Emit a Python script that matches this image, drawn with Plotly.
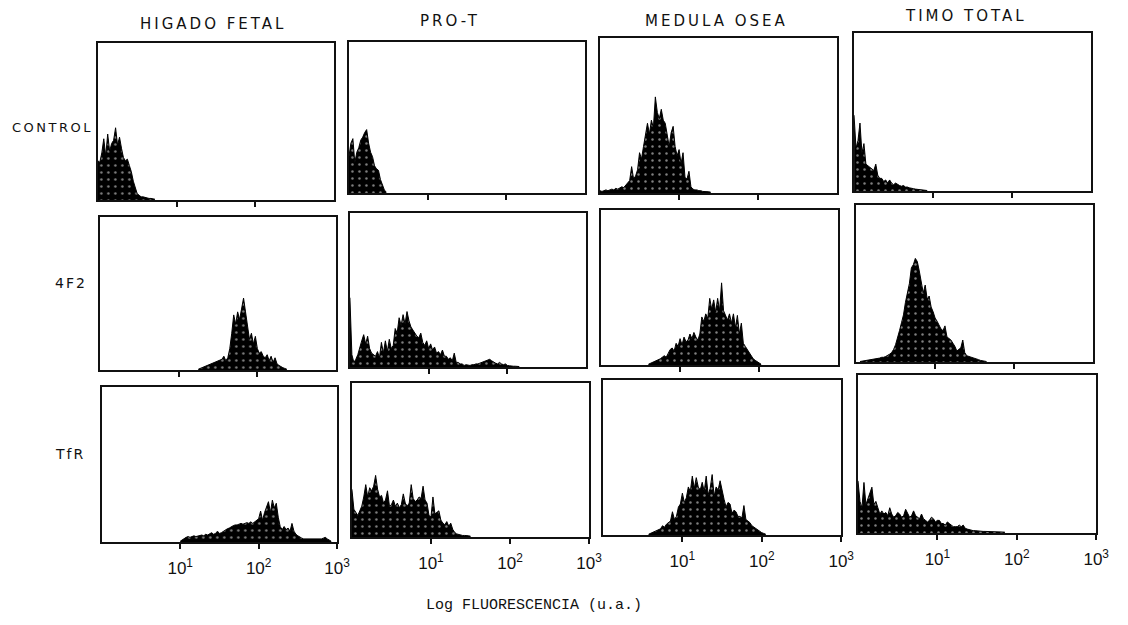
import numpy as np
import plotly.graph_objects as go

W, H = 1128, 625
CHANNEL = 0.025  # width of one histogram channel, in decades of fluorescence

column_titles = ["HIGADO FETAL", "PRO-T", "MEDULA OSEA", "TIMO TOTAL"]
row_titles = ["CONTROL", "4F2", "TfR"]
tick_values = [10, 100, 1000]
tick_text = ["10<sup>1</sup>", "10<sup>2</sup>", "10<sup>3</sup>"]

# Histogram counts (% of full scale), one value per channel, starting at the given channel
higado_control_first = 0
higado_control = [25, 24, 30, 39, 28, 42, 31, 36, 38, 46, 35, 40, 33, 27, 25, 26, 22, 18, 12, 8,
                  4, 3, 2, 2, 1.5, 1, 1, 1, 0.5, 0.5]
higado_4f2_first = 50
higado_4f2 = [0.5, 1, 1.5, 2, 2.5, 3, 3.5, 4, 4.5, 5, 5.5, 6, 7, 9, 6, 8, 14, 24, 36, 30,
              38, 33, 40, 47, 38, 28, 20, 24, 17, 22, 14, 11, 12, 9, 8, 10, 6, 9, 5, 8,
              4, 3, 2, 1.5, 1, 0.5]
higado_tfr_first = 40
higado_tfr = [0.5, 1.5, 2.5, 3, 3.5, 3, 3.5, 4, 3.5, 4, 4, 4.5, 4, 5, 4.5, 5, 6, 5, 5.5, 7,
              5.5, 6, 7, 8, 8.5, 9, 10, 10.5, 11, 11, 11.5, 12, 11.5, 12, 12.5, 12, 13, 12, 13, 14,
              15, 20, 14, 19, 22, 26, 19, 27, 22, 25, 16, 10, 8, 10, 8, 9, 7, 12, 7, 5,
              4, 3, 2.5, 2, 2, 2, 2, 2, 2, 2, 2, 2, 2, 2.5, 3, 2, 1, 0.5]

prot_control_first = 0
prot_control = [24, 33, 36, 20, 27, 30, 35, 37, 40, 42, 33, 27, 24, 18, 16, 15, 9, 6, 2, 0.5]
prot_4f2_first = 0
prot_4f2 = [45, 8, 3, 5, 8, 13, 17, 21, 15, 20, 12, 9, 8, 7, 10, 6, 16, 9, 17, 10,
            18, 12, 14, 25, 22, 32, 27, 34, 28, 36, 30, 26, 24, 22, 20, 19, 22, 16, 14, 17,
            12, 15, 11, 13, 9, 10, 8, 11, 7, 7, 5, 6, 4, 9, 3, 3, 2, 2, 1, 1.5,
            1, 1, 1.5, 1.5, 2, 2, 2.5, 3, 3, 3.5, 4, 5, 4, 3, 2.5, 2, 3, 2, 1.5, 2,
            1, 0.8, 0.5, 0.5, 0.5, 0.3, 0.3]
prot_tfr_first = 0
prot_tfr = [31, 18, 16, 14, 17, 20, 26, 34, 26, 32, 30, 33, 40, 31, 26, 27, 22, 24, 30, 20,
            21, 24, 20, 22, 19, 21, 28, 22, 20, 22, 34, 25, 23, 24, 26, 25, 33, 24, 22, 14,
            13, 26, 15, 16, 17, 11, 9, 8, 10, 7, 9, 5, 3, 2, 1.5, 1, 1, 1, 1, 0.8, 0.5]

medula_control_first = 0
medula_control = [1.5, 1, 1.5, 2, 1.5, 2, 2.5, 2, 3, 2.5, 3, 4, 3.5, 5, 6, 8, 17, 9, 11, 15,
                  26, 22, 30, 39, 45, 38, 47, 42, 62, 52, 48, 54, 47, 45, 37, 30, 39, 43, 30, 24,
                  28, 19, 26, 10, 9, 14, 4, 2.5, 2, 2, 1.5, 1.5, 1, 1, 1, 0.8, 0.5]
medula_4f2_first = 24
medula_4f2 = [0.5, 1, 1.5, 2, 2.5, 3, 4, 5, 6, 5, 8, 10, 11, 9, 14, 12, 17, 13, 18, 15,
              16, 20, 17, 21, 18, 16, 20, 31, 28, 33, 30, 43, 36, 42, 34, 43, 35, 53, 35, 32,
              29, 33, 27, 33, 24, 32, 20, 27, 14, 12, 10, 8, 6, 4, 3, 2, 1, 0.5]
medula_tfr_first = 23
medula_tfr = [0.5, 1, 1.5, 2, 2.5, 3, 4, 6, 5, 7, 8, 9, 15, 10, 12, 18, 20, 27, 21, 24,
              31, 28, 38, 30, 37, 31, 29, 34, 28, 38, 26, 30, 39, 25, 31, 29, 35, 28, 23, 18,
              21, 20, 14, 16, 15, 12, 12, 11, 19, 10, 9, 8, 6, 5, 4, 3, 2, 1.5, 1, 0.5]

timo_control_first = 0
timo_control = [48, 27, 32, 43, 24, 30, 17, 16, 15, 14, 13, 17, 10, 8, 8, 6, 7, 5, 7, 5,
                4, 5, 4, 3.5, 3, 3.5, 2.5, 2.5, 2, 1.5, 1.5, 1.2, 1, 1, 0.8, 0.6, 0.5, 0.3]
timo_4f2_first = 2
timo_4f2 = [0.3, 0.5, 0.8, 1, 1, 1.2, 1.5, 1.5, 2, 2, 2.5, 3, 3, 3.5, 4, 5, 6, 8, 11, 15,
            20, 25, 30, 38, 44, 50, 60, 62, 66, 64, 58, 50, 44, 49, 40, 42, 35, 32, 28, 26,
            23, 21, 20, 23, 16, 15, 14, 12, 10, 7, 8, 9, 14, 6, 4, 3.5, 3, 3, 2.5, 2,
            1.5, 1, 0.8, 0.5, 0.3]
timo_tfr_first = 0
timo_tfr = [33, 20, 16, 32, 18, 22, 25, 29, 18, 20, 16, 12, 14, 12, 13, 11, 16, 12, 10, 11,
            13, 12, 10, 11, 15, 12, 10, 11, 14, 11, 10, 9, 12, 9, 8, 7, 8, 10, 9, 7,
            8, 8, 6, 6, 5, 7, 6, 5, 4, 4, 4, 5, 4, 5, 3, 2.5, 2, 2, 1.5, 1.5,
            1.3, 1, 1, 1, 1, 1, 1, 1, 0.8, 0.8, 0.8, 0.7, 0.6, 0.6, 0.5]

grid = [
    [(higado_control_first, higado_control), (prot_control_first, prot_control),
     (medula_control_first, medula_control), (timo_control_first, timo_control)],
    [(higado_4f2_first, higado_4f2), (prot_4f2_first, prot_4f2),
     (medula_4f2_first, medula_4f2), (timo_4f2_first, timo_4f2)],
    [(higado_tfr_first, higado_tfr), (prot_tfr_first, prot_tfr),
     (medula_tfr_first, medula_tfr), (timo_tfr_first, timo_tfr)],
]

# Panel frames in pixels: (left, top, right, bottom)
boxes = [
    [(99, 43, 338, 200), (353, 42, 592, 193), (607, 38, 847, 193), (864, 33, 1104, 191)],
    [(101, 217, 340, 370), (354, 213, 593, 367), (608, 210, 848, 365), (866, 205, 1106, 362)],
    [(103, 387, 341, 542), (356, 383, 596, 537), (610, 380, 851, 535), (868, 375, 1109, 533)],
]


def px_x(v):
    return v / W


def px_y(v):
    return 1 - v / H


def spaced(text, gap):
    return f'<span style="letter-spacing:{gap}px">{text}</span>'


fig = go.Figure()
layout = {}
for r in range(3):
    for c in range(4):
        k = r * 4 + c + 1
        first, counts = grid[r][c]
        x = 10 ** ((first + np.arange(len(counts))) * CHANNEL)
        fig.add_trace(go.Scatter(
            x=x, y=counts, mode="lines", fill="tozeroy",
            line=dict(color="black", width=1),
            fillcolor="black",
            fillpattern=dict(shape=".", fgcolor="white", bgcolor="black", size=7, solidity=0.1),
            xaxis=f"x{k}", yaxis=f"y{k}", showlegend=False, hoverinfo="skip",
        ))
        left, top, right, bottom = boxes[r][c]
        xaxis = dict(
            domain=[px_x(left), px_x(right)], anchor=f"y{k}", type="log", range=[0, 3],
            showline=True, mirror=True, linecolor="#111", linewidth=1.8,
            ticks="outside", ticklen=5, tickwidth=1.5, tickcolor="#111",
            showgrid=False, zeroline=False, fixedrange=True,
        )
        if r == 2:
            xaxis.update(tickvals=tick_values, ticktext=tick_text, showticklabels=True,
                         ticklabelstandoff=5,
                         tickfont=dict(family="Liberation Sans", size=17, color="#111"))
        else:
            xaxis.update(tickvals=tick_values[:2], showticklabels=False)
        layout[f"xaxis{k}"] = xaxis
        layout[f"yaxis{k}"] = dict(
            domain=[px_y(bottom), px_y(top)], anchor=f"x{k}", range=[0, 100],
            showline=True, mirror=True, linecolor="#111", linewidth=1.8,
            ticks="", showticklabels=False, showgrid=False, zeroline=False, fixedrange=True,
        )

annotations = []
title_pos = [(215, 24), (455, 21), (725, 21), (977, 16)]
for c, name in enumerate(column_titles):
    xc, yc = title_pos[c]
    annotations.append(dict(
        text=spaced(name, 3), x=px_x(xc), y=px_y(yc), xref="paper", yref="paper",
        showarrow=False, xanchor="center", yanchor="middle",
        font=dict(family="DejaVu Sans", size=15, color="#111"),
    ))
row_label_pos = [(96, 127), (90, 283), (88, 454)]
for r, name in enumerate(row_titles):
    xr, yc = row_label_pos[r]
    annotations.append(dict(
        text=spaced(name, 2.5 if r == 0 else 2), x=px_x(xr), y=px_y(yc),
        xref="paper", yref="paper",
        showarrow=False, xanchor="right", yanchor="middle",
        font=dict(family="DejaVu Sans", size=13 if r == 0 else 14, color="#111"),
    ))
annotations.append(dict(
    text="Log FLUORESCENCIA (u.a.)", x=px_x(540), y=px_y(605), xref="paper", yref="paper",
    showarrow=False, xanchor="center", yanchor="middle",
    font=dict(family="Liberation Mono", size=15, color="#111"),
))

fig.update_layout(
    width=W, height=H, margin=dict(l=0, r=0, t=0, b=0),
    paper_bgcolor="white", plot_bgcolor="white",
    annotations=annotations, **layout,
)

fig.write_html("out.html")
